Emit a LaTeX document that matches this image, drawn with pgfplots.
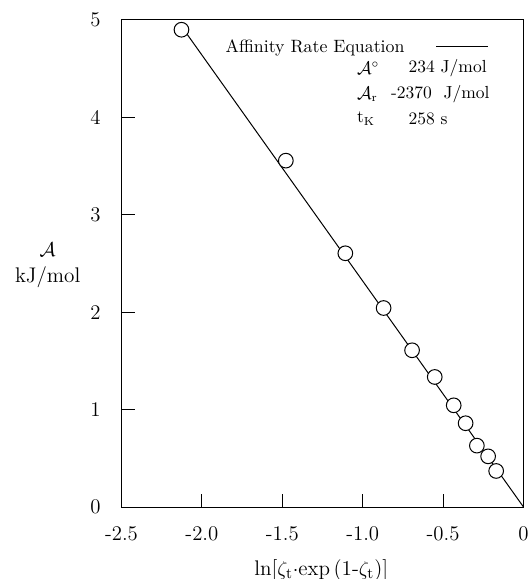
\documentclass[border=0pt]{standalone}
\usepackage{pgfplots}
\pgfplotsset{compat=1.18}
\begin{document}
\begin{tikzpicture}[font=\fontsize{10.5}{13}\selectfont]
\useasboundingbox (-72.9pt,-43.2pt) rectangle (245.7pt,304.2pt);
\begin{axis}[
  at={(0pt,0pt)}, anchor=south west,
  scale only axis, width=241.2pt, height=292.2pt,
  xmin=-2.5, xmax=0, ymin=0, ymax=5,
  xtick={-2.5,-2,-1.5,-1,-0.5,0},
  xticklabels={-2.5,-2.0,-1.5,-1.0,-0.5,0},
  ytick={0,1,2,3,4,5},
  yticklabels={0,1,2,3,4,5},
  tick align=inside, xtick pos=left, ytick pos=left,
  major tick length=8pt,
  axis line style={line width=0.6pt},
  tick style={line width=0.6pt, black},
  tick label style={font=\fontsize{12.5}{14}\selectfont},
  xticklabel style={yshift=-8pt},
  yticklabel style={xshift=-9pt},
  xlabel={ln[$\zeta_{\mathrm{t}}\cdot$exp\,(1-$\zeta_{\mathrm{t}}$)]},
  ylabel={$\mathcal{A}$\\kJ/mol},
  xlabel style={at={(axis description cs:0.497,-0.130)}, anchor=center, font=\fontsize{12.7}{15}\selectfont},
  ylabel style={at={(axis description cs:-0.1836,0.497)}, anchor=center, rotate=-90, align=center, font=\fontsize{12.7}{15.6}\selectfont},
  legend plot pos=right,
  legend style={at={(axis description cs:0.2376,0.9446)}, anchor=west, draw=none, fill=none, font=\fontsize{10.7}{13}\selectfont},
  legend image code/.code={\draw[draw=none] (0pt,0pt) -- (17pt,0pt); \draw[line width=0.6pt] (17pt,0pt) -- (47.8pt,0pt);},
  clip=false,
]
\addplot[black, line width=0.6pt] coordinates {(-2.127,4.935) (0,0)};
\addlegendentry{Affinity Rate Equation}
\addplot[forget plot, only marks, mark=*, mark size=4.4pt, mark options={fill=white, draw=black, line width=0.6pt}] coordinates {
(-2.127,4.90) (-1.478,3.556) (-1.108,2.605) (-0.870,2.043) (-0.693,1.609)
(-0.552,1.335) (-0.434,1.044) (-0.36,0.86) (-0.29,0.63) (-0.22,0.52) (-0.17,0.37)
};
\node[anchor=west, inner sep=0pt] at (axis description cs:0.585,0.9008) {$\mathcal{A}^\circ$};
\node[anchor=west, inner sep=0pt] at (axis description cs:0.7134,0.9008) {234 J/mol};
\node[anchor=west, inner sep=0pt] at (axis description cs:0.585,0.8474) {$\mathcal{A}_{\mathrm{r}}$};
\node[anchor=west, inner sep=0pt] at (axis description cs:0.6697,0.8474) {-2370\ \ J/mol};
\node[anchor=west, inner sep=0pt] at (axis description cs:0.585,0.798) {t$_{\mathrm{K}}$};
\node[anchor=west, inner sep=0pt] at (axis description cs:0.7134,0.798) {258 s};
\end{axis}
\end{tikzpicture}
\end{document}
